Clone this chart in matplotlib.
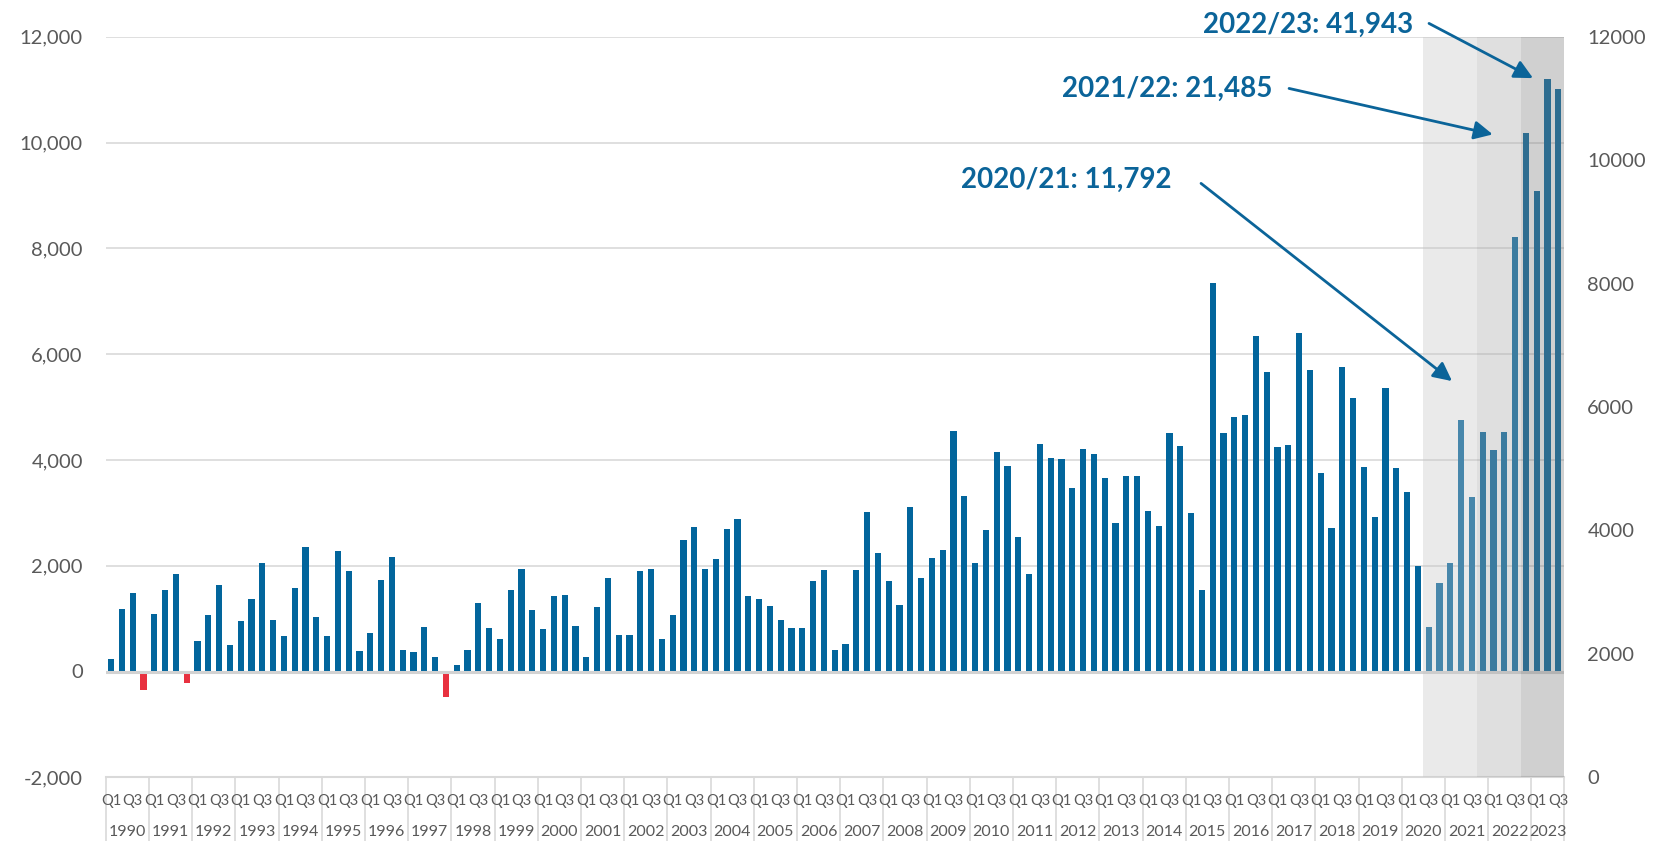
import numpy as np
import matplotlib
matplotlib.use("Agg")
import matplotlib.pyplot as plt

plt.rcParams['font.family'] = ['Lato', 'DejaVu Sans']

# ---------------- data ----------------
years = list(range(1990, 2024))
quarter_names = ["Q1", "Q2", "Q3", "Q4"]
values = [
    230, 1180, 1480, -350,      # 1990
    1090, 1550, 1840, -210,     # 1991
    570, 1060, 1630, 510,       # 1992
    960, 1365, 2060, 975,       # 1993
    675, 1570, 2360, 1025,      # 1994
    680, 2280, 1905, 390,       # 1995
    735, 1730, 2165, 415,       # 1996
    370, 845, 277, -490,        # 1997
    120, 410, 1300, 830,        # 1998
    615, 1545, 1935, 1165,      # 1999
    800, 1435, 1438, 864,       # 2000
    271, 1224, 1767, 688,       # 2001
    681, 1899, 1937, 612,       # 2002
    1060, 2492, 2732, 1931,     # 2003
    2120, 2694, 2890, 1432,     # 2004
    1375, 1230, 972, 814,       # 2005
    820, 1710, 1918, 410,       # 2006
    511, 1918, 3022, 2240,      # 2007
    1710, 1249, 3110, 1773,     # 2008
    2151, 2296, 4542, 3318,     # 2009
    2057, 2675, 4158, 3880,     # 2010
    2549, 1849, 4296, 4038,     # 2011
    4025, 3470, 4208, 4113,     # 2012
    3657, 2807, 3693, 3700,     # 2013
    3036, 2750, 4500, 4257,     # 2014
    2993, 1543, 7343, 4507,     # 2015
    4814, 4850, 6343, 5657,     # 2016
    4236, 4286, 6393, 5693,     # 2017
    3757, 2707, 5764, 5164,     # 2018
    3871, 2921, 5364, 3850,     # 2019
    3393, 1993, 843, 1671,      # 2020
    2043, 4750, 3300, 4529,     # 2021
    4193, 4529, 8208, 10177,    # 2022
    9075, 11196, 11019,         # 2023 (Q1-Q3)
]
# highlighted periods: (first year, first quarter, last year, last quarter)
period_spans = [(2020, 3, 2021, 3), (2021, 4, 2022, 3), (2022, 4, 2023, 3)]
period_labels = ["2020/21: 11,792", "2021/22: 21,485", "2022/23: 41,943"]
left_ticks = list(range(-2000, 12001, 2000))
right_ticks = list(range(0, 12001, 2000))

# ---------------- derived ----------------
n = len(values)
bar_year = [years[i // 4] for i in range(n)]
bar_q = [i % 4 + 1 for i in range(n)]
x = np.arange(n)

def idx(y, q):
    return (y - years[0]) * 4 + (q - 1)

BLUE = '#02659c'
RED = '#e8313f'
TXT = '#595959'
ANN = '#0b6499'

fig = plt.figure(figsize=(16.67, 8.41), dpi=100)
L, R, B, T = 105.7 / 1667, 1563.7 / 1667, 1 - 777.3 / 841, 1 - 36.7 / 841
ax = fig.add_axes([L, B, R - L, T - B])

colors = [BLUE if v >= 0 else RED for v in values]
ax.bar(x, values, width=0.57, color=colors, zorder=2, linewidth=0)

ax.set_xlim(-0.5, n - 0.5)
ax.set_ylim(-2000, 12000)
ax.set_yticks(left_ticks)
ax.set_yticklabels([f"{t:,}" for t in left_ticks])
ax.yaxis.grid(True, color='#dcdcdc', lw=1.3, zorder=0)
ax.set_axisbelow(True)
ax.axhline(0, color='#d2d2d2', lw=2.2, zorder=2.5)
ax.set_xticks([])
for s in ['top', 'right', 'left']:
    ax.spines[s].set_visible(False)
ax.spines['bottom'].set_color('#d9d9d9')
ax.spines['bottom'].set_linewidth(1.5)
ax.tick_params(axis='y', length=0, pad=16.5, labelsize=14.5, labelcolor=TXT)

# shaded periods (semi-transparent overlay)
overlay = [('#c6c6c6', 0.36), ('#a6a6a6', 0.35), ('#7d7d7d', 0.36)]
for (y0, q0, y1, q1), (c, a) in zip(period_spans, overlay):
    ax.axvspan(idx(y0, q0) - 0.5, idx(y1, q1) + 0.5, ymin=0, ymax=1,
               color=c, alpha=a, lw=0, zorder=3)

# right axis
ax2 = ax.twinx()
ax2.set_ylim(0, 12000)
ax2.set_yticks(right_ticks)
ax2.set_yticklabels([str(t) for t in right_ticks])
for s in ['top', 'right', 'left', 'bottom']:
    ax2.spines[s].set_visible(False)
ax2.tick_params(axis='y', length=0, pad=17, labelsize=14.5, labelcolor=TXT)

# x labels
xt = ax.get_xaxis_transform()
for i in range(n):
    if bar_q[i] in (1, 3):
        ax.annotate(quarter_names[bar_q[i] - 1], xy=(i, 0), xycoords=xt,
                    xytext=(0, -23.4), textcoords='offset pixels',
                    ha='center', va='center', fontsize=10.5, color=TXT,
                    annotation_clip=False)
sep_len = 64 / (777.3 - 36.7)
for yr in years:
    members = [i for i in range(n) if bar_year[i] == yr]
    lo, hi = members[0] - 0.5, members[-1] + 0.5
    ax.annotate(str(yr), xy=((lo + hi) / 2, 0), xycoords=xt,
                xytext=(0, -54.4), textcoords='offset pixels',
                ha='center', va='center', fontsize=11.5, color=TXT,
                annotation_clip=False)
    ax.plot([lo, lo], [0, -sep_len], transform=xt, color='#dcdcdc', lw=1.3,
            clip_on=False)
ax.plot([n - 0.5, n - 0.5], [0, -sep_len], transform=xt, color='#dcdcdc',
        lw=1.3, clip_on=False)

# annotations
text_pos = [(98.23, 9289), (107.49, 11015), (120.55, 12219)]
arrow_from = [(100.92, 9227), (109.07, 11022), (122.03, 12251)]
arrow_to = [(124.16, 5490), (127.93, 10153), (131.66, 11217)]
for lab, tp, a0, a1 in zip(period_labels, text_pos, arrow_from, arrow_to):
    ax.text(tp[0], tp[1], lab, ha='right', va='center', fontsize=20,
            fontweight='bold', color=ANN, zorder=6, clip_on=False)
    ax.annotate('', xy=a1, xytext=a0,
                arrowprops=dict(arrowstyle='-|>', color=ANN, lw=2.0,
                                mutation_scale=28, shrinkA=0, shrinkB=0),
                annotation_clip=False, zorder=6)

fig.savefig('out.png', dpi=100)
